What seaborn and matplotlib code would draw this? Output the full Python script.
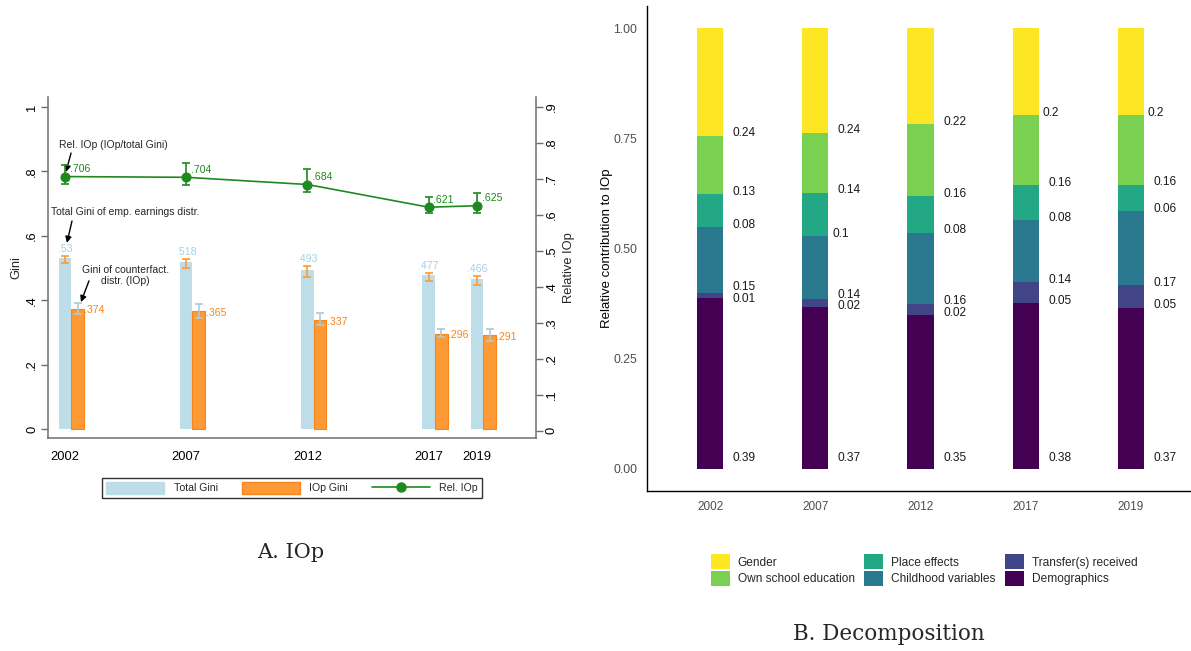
"""
IOp and its decomposition, 2002-2019
Left: total Gini vs IOp Gini (bars, left axis) and relative IOp (line, right axis)
Right: share of each circumstance group in IOp (stacked bars)
"""
import matplotlib.pyplot as plt
import numpy as np
import seaborn as sns
from matplotlib import font_manager
from matplotlib.lines import Line2D
from matplotlib.patches import Patch

# ── data: panel A ───────────────────────────────────────────────────────────
years      = [2002, 2007, 2012, 2017, 2019]
total_gini = [0.530, 0.518, 0.493, 0.477, 0.466]
total_lo   = [0.516, 0.500, 0.472, 0.460, 0.447]
total_hi   = [0.537, 0.528, 0.506, 0.484, 0.475]
iop_gini   = [0.374, 0.365, 0.337, 0.296, 0.291]
iop_lo     = [0.357, 0.345, 0.323, 0.286, 0.273]
iop_hi     = [0.391, 0.388, 0.360, 0.310, 0.310]
rel_iop    = [0.706, 0.704, 0.684, 0.621, 0.625]
rel_lo     = [0.686, 0.683, 0.664, 0.606, 0.606]
rel_hi     = [0.739, 0.744, 0.728, 0.650, 0.661]

# ── data: panel B (bottom to top of the stack) ──────────────────────────────
year_labels  = ["2002", "2007", "2012", "2017", "2019"]
components   = ["Demographics", "Transfer(s) received", "Childhood variables",
                "Place effects", "Own school education", "Gender"]
demographics = [0.387, 0.368, 0.350, 0.377, 0.366]
transfers    = [0.013, 0.018, 0.023, 0.046, 0.051]
childhood    = [0.148, 0.143, 0.163, 0.142, 0.167]
place        = [0.076, 0.098, 0.082, 0.079, 0.061]
own_school   = [0.132, 0.136, 0.164, 0.158, 0.157]
gender       = [0.244, 0.237, 0.218, 0.198, 0.198]
comp_colors  = ["#440154", "#414487", "#2A788E", "#22A884", "#7AD151", "#FDE725"]
legend_order = ["Gender", "Own school education", "Place effects",
                "Childhood variables", "Transfer(s) received", "Demographics"]

# ── style ───────────────────────────────────────────────────────────────────
sns.set_style("white")
installed = {f.name for f in font_manager.fontManager.ttflist}
NARROW = next((f for f in ["Liberation Sans Narrow", "DejaVu Sans Condensed"]
               if f in installed), "Liberation Sans")
NS = 1.0 if NARROW != "Liberation Sans" else 0.86   # shrink if no narrow face
plt.rcParams["font.family"] = ["Liberation Sans", "DejaVu Sans"]

BLUE, BLUE_ERR, BLUE_TXT = "#BDDEE8", "#A9CCD8", "#A6D0E4"
ORANGE, ORANGE_EDGE = "#FD9A35", "#F7861C"
GREEN = "#1E8A1E"
SPINE = "#6E6E6E"

W, H = 1191, 651
fig = plt.figure(figsize=(W / 100, H / 100), dpi=100)


def rect(left, top, right, bottom):
    return [left / W, 1 - bottom / H, (right - left) / W, (bottom - top) / H]


def stata_fmt(v, pos=None):
    s = f"{v:g}"
    return s[1:] if s.startswith("0.") else s


# ── Panel A ─────────────────────────────────────────────────────────────────
axA = fig.add_axes(rect(48, 97, 536, 438))
axR = axA.twinx()

bar_w = 0.52
iop_x = [y + bar_w for y in years]
sns.barplot(x=years, y=total_gini, native_scale=True, orient="x", width=bar_w / 2,
            color=BLUE, saturation=1, errorbar=None, linewidth=0, ax=axA)
sns.barplot(x=iop_x, y=iop_gini, native_scale=True, orient="x", width=bar_w / 2,
            color=ORANGE, saturation=1, errorbar=None, linewidth=0.8,
            edgecolor=ORANGE_EDGE, ax=axA)

tg, il = np.array(total_gini), np.array(iop_gini)
axA.errorbar(years, tg, yerr=[tg - np.array(total_lo), np.array(total_hi) - tg],
             fmt="none", ecolor=ORANGE, elinewidth=1.2, capsize=3.2, capthick=1.2)
axA.errorbar(iop_x, il, yerr=[il - np.array(iop_lo), np.array(iop_hi) - il],
             fmt="none", ecolor=BLUE_ERR, elinewidth=1.2, capsize=3.2, capthick=1.2)

for x, v, hi in zip(years, total_gini, total_hi):
    axA.text(x, hi + 0.006, stata_fmt(round(v, 3)), color=BLUE_TXT, ha="center",
             va="bottom", fontsize=8.8 * NS, family=NARROW)
for x, v in zip(iop_x, iop_gini):
    axA.text(x + bar_w / 2 + 0.02, v - 0.005, stata_fmt(round(v, 3)), color=ORANGE_EDGE,
             ha="left", va="center", fontsize=8.8 * NS, family=NARROW)

rl = np.array(rel_iop)
sns.lineplot(x=years, y=rel_iop, color=GREEN, linewidth=1.2, marker="o",
             markersize=6.5, markeredgecolor=GREEN, ax=axR)
axR.errorbar(years, rl, yerr=[rl - np.array(rel_lo), np.array(rel_hi) - rl],
             fmt="none", ecolor=GREEN, elinewidth=1.2, capsize=3.2, capthick=1.2)
for x, v in zip(years, rel_iop):
    axR.text(x + 0.2, v + 0.021, stata_fmt(round(v, 3)), color=GREEN, ha="left",
             va="center", fontsize=8.8 * NS, family=NARROW)

axA.set_xlim(2001.3, 2021.43)
axA.set_ylim(-0.028, 1.031)
axR.set_ylim(-0.02, 0.927)
axA.set_xticks(years)
axA.set_xticklabels([str(y) for y in years])
axA.set_yticks(np.arange(0, 1.01, 0.2))
axR.set_yticks(np.arange(0, 0.91, 0.1))
axA.yaxis.set_major_formatter(plt.FuncFormatter(stata_fmt))
axR.yaxis.set_major_formatter(plt.FuncFormatter(stata_fmt))

for ax in (axA, axR):
    ax.set_facecolor("none")
    ax.tick_params(axis="both", direction="out", length=5, width=1, color=SPINE,
                   labelsize=10.8 * NS, labelcolor="black", pad=2)
    for lab in ax.get_xticklabels() + ax.get_yticklabels():
        lab.set_family(NARROW)
    ax.grid(False)
axA.tick_params(axis="x", pad=4)
axA.tick_params(axis="y", labelrotation=90)
axR.tick_params(axis="y", labelrotation=90)
for lab in axA.get_yticklabels() + axR.get_yticklabels():
    lab.set_va("center")

for side in ("top", "right"):
    axA.spines[side].set_visible(False)
for side in ("top", "left", "bottom"):
    axR.spines[side].set_visible(False)
for sp in (axA.spines["left"], axA.spines["bottom"], axR.spines["right"]):
    sp.set_color(SPINE)
    sp.set_linewidth(1.1)

axA.set_xlabel("")
axA.set_ylabel("Gini", fontsize=10.8 * NS, family=NARROW, labelpad=3)
axR.set_ylabel("Relative IOp", fontsize=10.8 * NS, family=NARROW, labelpad=4)

arrow = dict(arrowstyle="-|>", color="black", lw=1.0, mutation_scale=9,
             shrinkA=0, shrinkB=0)
note_kw = dict(fontsize=8.7 * NS, family=NARROW, ha="center", va="center")
axA.text(2003.98, 0.882, "Rel. IOp (IOp/total Gini)", **note_kw)
axA.annotate("", xy=(2002.04, 0.798), xytext=(2002.25, 0.857), arrowprops=arrow)
axA.text(2004.5, 0.674, "Total Gini of emp. earnings distr.", **note_kw)
axA.annotate("", xy=(2002.08, 0.578), xytext=(2002.29, 0.646), arrowprops=arrow)
axA.text(2004.48, 0.477, "Gini of counterfact.\ndistr. (IOp)", linespacing=1.05, **note_kw)
axA.annotate("", xy=(2002.66, 0.394), xytext=(2002.99, 0.46), arrowprops=arrow)

handles_a = [Patch(facecolor=BLUE, edgecolor=BLUE),
             Patch(facecolor=ORANGE, edgecolor=ORANGE_EDGE),
             Line2D([], [], color=GREEN, lw=1.2, marker="o", markersize=6.5)]
leg_a = fig.legend(handles_a, ["Total Gini", "IOp Gini", "Rel. IOp"], loc="center",
                   bbox_to_anchor=(292 / W, 1 - 488 / H), ncol=3, frameon=True,
                   fancybox=False, edgecolor="black", handlelength=5.5,
                   handleheight=1.4, handletextpad=0.9, columnspacing=2.3,
                   borderpad=0.4, prop={"family": NARROW, "size": 8.8 * NS})
leg_a.get_frame().set_linewidth(1.0)

# ── Panel B ─────────────────────────────────────────────────────────────────
axB = fig.add_axes(rect(647, 6, 1194, 491))
stack = np.array([demographics, transfers, childhood, place, own_school, gender])
tops = np.cumsum(stack, axis=0)
bottoms = tops - stack
b_w = 0.25

# cumulative bars drawn from the top of the stack downwards
for k in range(len(components) - 1, -1, -1):
    sns.barplot(x=year_labels, y=tops[k], order=year_labels, color=comp_colors[k],
                saturation=1, width=b_w, errorbar=None, linewidth=0, ax=axB)


def spread(ys, gap=0.027):
    ys = list(ys)
    for _ in range(30):
        for j in range(1, len(ys)):
            d = ys[j] - ys[j - 1]
            if d < gap:
                ys[j] += (gap - d) / 2
                ys[j - 1] -= (gap - d) / 2
    return ys


for i in range(len(year_labels)):
    label_y = spread([max(b, 0.02) + 0.005 for b in bottoms[:, i]])
    for k in range(len(components)):
        txt = f"{round(stack[k, i], 2):g}"
        dx = 0.09 if len(txt) > 3 else 0.035
        axB.text(i + b_w / 2 + dx, label_y[k], txt, ha="left", va="center",
                 fontsize=8.6, color="#1A1A1A")

axB.set_xlim(-0.6, 4.6)
axB.set_ylim(-0.05, 1.05)
axB.set_yticks([0, 0.25, 0.5, 0.75, 1.0])
axB.set_yticklabels(["0.00", "0.25", "0.50", "0.75", "1.00"])
axB.set_xlabel("")
axB.set_ylabel("Relative contribution to IOp", fontsize=9.5, color="black", labelpad=0)
axB.tick_params(axis="both", direction="out", length=4, width=0.8, color="black",
                labelsize=8.8, labelcolor="#4D4D4D", pad=3)
axB.tick_params(axis="x", labelsize=8.5)
for side in ("top", "right"):
    axB.spines[side].set_visible(False)
for side in ("left", "bottom"):
    axB.spines[side].set_color("black")
    axB.spines[side].set_linewidth(1.0)
axB.grid(False)

color_of = dict(zip(components, comp_colors))
handles_b = [Patch(facecolor=color_of[c], edgecolor="none") for c in legend_order]
fig.legend(handles_b, legend_order, loc="center", bbox_to_anchor=(924 / W, 1 - 570 / H),
           ncol=3, frameon=False, handlelength=1.6, handleheight=1.6,
           handletextpad=0.65, labelspacing=0.12, columnspacing=0.8,
           borderpad=0, prop={"size": 8.6})

# ── captions ────────────────────────────────────────────────────────────────
fig.text(291 / W, 1 - 553 / H, "A. IOp", family="DejaVu Serif", fontsize=15,
         ha="center", va="center")
fig.text(889 / W, 1 - 634 / H, "B. Decomposition", family="DejaVu Serif",
         fontsize=15.5, ha="center", va="center")

fig.savefig("out.png", dpi=100)
